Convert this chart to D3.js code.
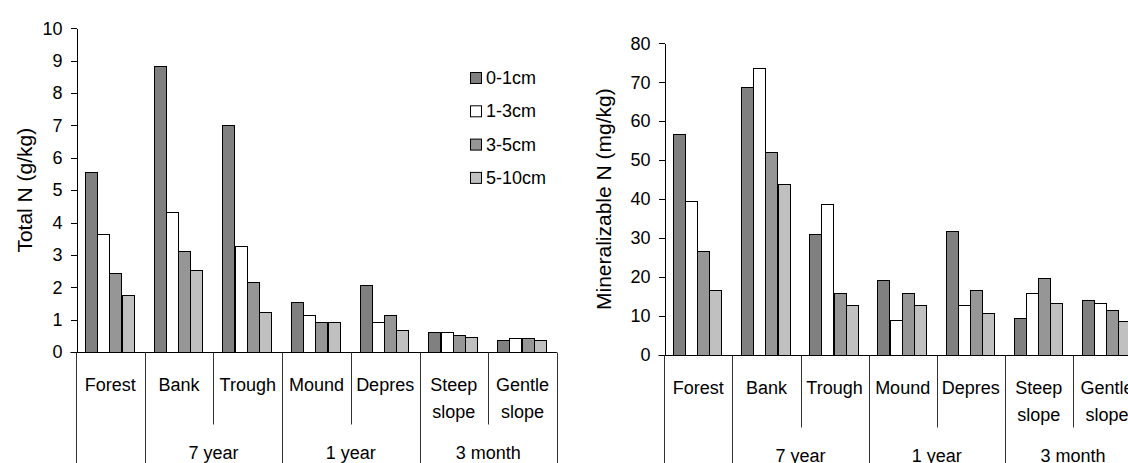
<!DOCTYPE html>
<html>
<head>
<meta charset="utf-8">
<script src="https://cdn.jsdelivr.net/npm/d3@7"></script>
<style>
  body { margin: 0; background: #fff; }
  svg { display: block; font-family: "Liberation Sans", Arial, sans-serif; }
  .axis text { font-size: 18px; fill: #000; }
  .axis path, .axis line { stroke: #000; shape-rendering: crispEdges; }
</style>
</head>
<body>
<div id="chartDiv"></div>
<script>
// categories along x, grouped by site age
const categories = ["Forest", "Bank", "Trough", "Mound", "Depres", "Steep slope", "Gentle slope"];
const groupLabels = ["", "7 year", "1 year", "3 month"];
const groupSpans = [[0, 0], [1, 2], [3, 4], [5, 6]];   // first / last category index of each group
const depths = ["0-1cm", "1-3cm", "3-5cm", "5-10cm"];
const depthColors = ["#808080", "#ffffff", "#969696", "#c0c0c0"];

// Total N (g/kg), one array per depth
const totalN_0_1 = [5.55, 8.82, 7.0, 1.56, 2.07, 0.62, 0.36];
const totalN_1_3 = [3.64, 4.32, 3.27, 1.15, 0.93, 0.62, 0.42];
const totalN_3_5 = [2.44, 3.11, 2.17, 0.94, 1.14, 0.53, 0.42];
const totalN_5_10 = [1.77, 2.54, 1.25, 0.94, 0.68, 0.47, 0.36];

// Mineralizable N (mg/kg)
const minN_0_1 = [56.8, 68.9, 31.0, 19.3, 31.9, 9.4, 14.1];
const minN_1_3 = [39.5, 73.6, 38.8, 8.9, 12.8, 15.8, 13.3];
const minN_3_5 = [26.7, 52.0, 15.8, 15.8, 16.7, 19.8, 11.6];
const minN_5_10 = [16.8, 43.9, 12.8, 12.8, 10.7, 13.3, 8.6];

const yTicksLeft = d3.range(0, 11, 1);
const yTicksRight = d3.range(0, 81, 10);

const W = 1128, H = 463;
const svg = d3.select("#chartDiv").append("svg")
    .attr("width", W)
    .attr("height", H);

function drawChart(cfg) {
    const g = svg.append("g");

    let x = d3.scaleBand()
        .domain(categories)
        .range([cfg.left, cfg.left + cfg.catWidth * categories.length]);

    // bars sit a bit left of center inside each category, like excel
    let xIn = d3.scaleBand()
        .domain(depths)
        .range([x.bandwidth() * 0.13, x.bandwidth() * 0.84]);

    let y = d3.scaleLinear()
        .domain([0, cfg.max])
        .range([cfg.bottom, cfg.top]);

    // bars
    let series = cfg.values.map((vals, si) => vals.map((v, ci) => ({cat: categories[ci], depth: depths[si], value: v, si: si})));
    g.selectAll("g.series")
        .data(series)
        .enter().append("g")
        .attr("class", "series")
        .selectAll("rect")
        .data(d => d)
        .enter().append("rect")
        .attr("x", d => Math.round(x(d.cat) + xIn(d.depth)) + 0.5)
        .attr("y", d => Math.round(y(d.value)) + 0.5)
        .attr("width", Math.round(xIn.bandwidth()))
        .attr("height", d => Math.round(y(0)) - Math.round(y(d.value)))
        .style("fill", d => depthColors[d.si])
        .style("stroke", "#000")
        .style("stroke-width", 1);

    // y axis
    let yAxis = d3.axisLeft(y)
        .tickValues(cfg.ticks)
        .tickSize(6)
        .tickSizeOuter(0)
        .tickPadding(8);
    g.append("g")
        .attr("class", "axis")
        .attr("transform", `translate(${Math.round(cfg.left) + 0.5}, 0)`)
        .call(yAxis);

    // x baseline
    let x0 = Math.round(cfg.left) + 0.5;
    let x1 = cfg.left + cfg.catWidth * categories.length;
    let yb = Math.round(y(0)) + 0.5;
    g.append("line")
        .attr("x1", x0 - 6).attr("x2", x1)
        .attr("y1", yb).attr("y2", yb)
        .style("stroke", "#000");

    // separators below the axis: full height at group edges, short inside groups
    let edges = [0];
    groupSpans.forEach(s => edges.push(s[1] + 1));
    d3.range(0, categories.length + 1).forEach(i => {
        let xx = Math.round(i < categories.length ? x(categories[i]) : x1) + 0.5;
        let full = edges.includes(i);
        g.append("line")
            .attr("x1", xx).attr("x2", xx)
            .attr("y1", yb).attr("y2", full ? H : yb + 72)
            .style("stroke", "#333");
    });

    // category labels
    g.selectAll("text.cat")
        .data(categories)
        .enter().append("text")
        .attr("class", "cat")
        .attr("x", d => x(d) + x.bandwidth() / 2)
        .attr("y", yb + 38)
        .style("text-anchor", "middle")
        .style("font-size", "18px")
        .each(function (d) {
            let words = d.split(" ");
            d3.select(this).selectAll("tspan")
                .data(words)
                .enter().append("tspan")
                .attr("x", x(d) + x.bandwidth() / 2)
                .attr("dy", (w, i) => i === 0 ? 0 : 27)
                .text(w => w);
        });

    // group labels
    g.selectAll("text.grp")
        .data(groupLabels)
        .enter().append("text")
        .attr("class", "grp")
        .attr("x", (d, i) => (x(categories[groupSpans[i][0]]) + x(categories[groupSpans[i][1]]) + x.bandwidth()) / 2)
        .attr("y", yb + 106)
        .style("text-anchor", "middle")
        .style("font-size", "18px")
        .text(d => d);

    // y title
    g.append("text")
        .attr("transform", `translate(${cfg.titleX}, ${(cfg.top + cfg.bottom) / 2}) rotate(-90)`)
        .style("text-anchor", "middle")
        .style("font-size", "21px")
        .text(cfg.title);
}

drawChart({
    left: 76, catWidth: 68.7, top: 28.3, bottom: 352, max: 10,
    ticks: yTicksLeft, values: [totalN_0_1, totalN_1_3, totalN_3_5, totalN_5_10],
    title: "Total N (g/kg)", titleX: 32
});

drawChart({
    left: 664.3, catWidth: 68.1, top: 43.3, bottom: 355, max: 80,
    ticks: yTicksRight, values: [minN_0_1, minN_1_3, minN_3_5, minN_5_10],
    title: "Mineralizable N (mg/kg)", titleX: 611
});

// legend (left chart only)
let legend = svg.append("g").attr("transform", "translate(470, 72)");
let items = legend.selectAll("g")
    .data(depths)
    .enter().append("g")
    .attr("transform", (d, i) => `translate(0, ${i * 33.3})`);
items.append("rect")
    .attr("x", 0.5).attr("y", 0.5)
    .attr("width", 11).attr("height", 11)
    .style("fill", (d, i) => depthColors[i])
    .style("stroke", "#000");
items.append("text")
    .attr("x", 16).attr("y", 12)
    .style("font-size", "18px")
    .text(d => d);
</script>
</body>
</html>
